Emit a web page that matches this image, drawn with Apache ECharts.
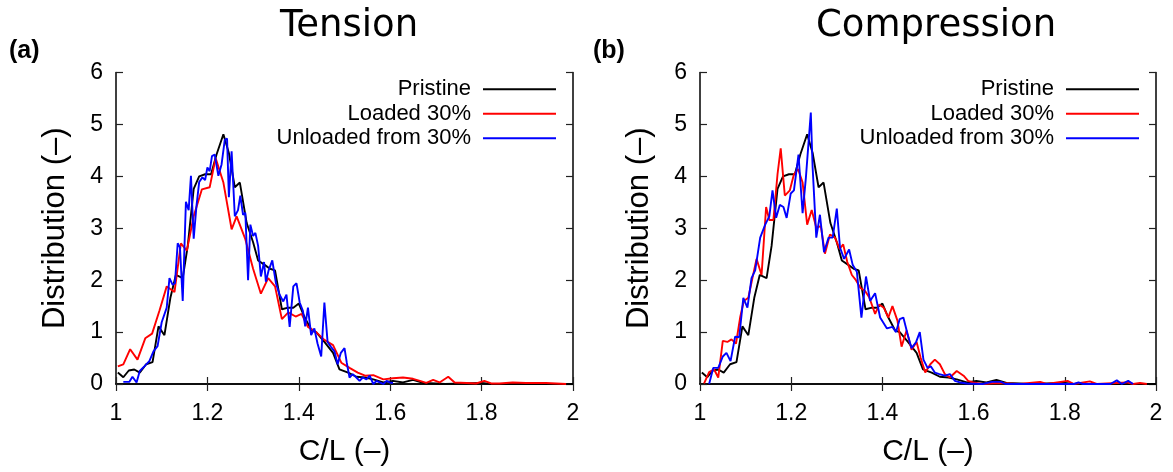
<!DOCTYPE html>
<html><head><meta charset="utf-8">
<script src="https://cdn.jsdelivr.net/npm/echarts@6/dist/echarts.min.js"></script>
<style>html,body{margin:0;padding:0;background:#fff}#c{width:1173px;height:472px}</style>
</head><body><div id="c"></div>
<script>
// ---- data ----
const panelTitles = ['Tension', 'Compression'];
const panelTags = ['(a)', '(b)'];
const seriesNames = ['Pristine', 'Loaded 30%', 'Unloaded from 30%'];
const xTickValues = [1, 1.2, 1.4, 1.6, 1.8, 2];
const yTickValues = [0, 1, 2, 3, 4, 5, 6];

const pristineX = [1.004,1.016,1.028,1.040,1.052,1.066,1.080,1.093,1.106,1.119,1.131,1.146,1.157,1.170,1.182,1.195,1.208,1.220,1.235,1.247,1.260,1.271,1.286,1.300,1.311,1.326,1.337,1.348,1.363,1.377,1.388,1.400,1.413,1.428,1.438,1.456,1.475,1.489,1.508,1.526,1.545,1.563,1.585,1.606,1.628,1.650,1.672,1.700,1.720,1.800,1.820,2.000];
const pristineY = [0.22,0.13,0.26,0.28,0.22,0.38,0.42,1.11,0.94,1.66,2.10,2.04,2.66,3.76,4.00,4.04,4.04,4.42,4.81,4.45,3.79,3.88,3.10,2.73,2.38,2.29,2.22,2.19,1.44,1.47,1.47,1.55,1.28,1.03,1.00,0.81,0.60,0.28,0.22,0.14,0.125,0.09,0.03,0.06,0.03,0.08,0.02,0.01,0.00,0.02,0.00,0.00];

const tensionLoadedX = [1.004,1.016,1.031,1.047,1.064,1.079,1.095,1.111,1.128,1.142,1.155,1.170,1.188,1.205,1.218,1.235,1.253,1.264,1.283,1.300,1.317,1.333,1.348,1.363,1.377,1.393,1.406,1.420,1.438,1.456,1.475,1.493,1.511,1.529,1.545,1.563,1.585,1.606,1.628,1.650,1.665,1.679,1.694,1.708,1.727,1.741,1.767,1.788,1.806,1.821,1.839,1.868,1.897,1.941,1.985];
const tensionLoadedY = [0.34,0.38,0.67,0.47,0.88,0.97,1.41,1.88,1.77,2.71,2.57,3.23,3.75,3.79,4.35,3.88,2.98,3.23,2.79,2.22,1.74,2.04,1.88,1.25,1.38,1.30,1.35,1.10,1.00,0.85,0.75,0.41,0.31,0.22,0.16,0.17,0.09,0.11,0.125,0.10,0.06,0.02,0.08,0.03,0.14,0.03,0.02,0.01,0.06,0.01,0.01,0.03,0.02,0.02,0.00];

const tensionUnloadedX = [1.016,1.029,1.036,1.045,1.052,1.062,1.073,1.082,1.091,1.100,1.111,1.117,1.124,1.129,1.135,1.140,1.146,1.153,1.159,1.164,1.170,1.176,1.182,1.189,1.195,1.200,1.205,1.210,1.216,1.224,1.231,1.238,1.243,1.247,1.253,1.260,1.267,1.272,1.278,1.283,1.289,1.294,1.300,1.305,1.311,1.317,1.324,1.328,1.334,1.342,1.350,1.358,1.366,1.373,1.380,1.388,1.395,1.402,1.409,1.414,1.420,1.427,1.434,1.441,1.449,1.456,1.463,1.470,1.478,1.485,1.492,1.500,1.505,1.511,1.518,1.526,1.533,1.540,1.548,1.555,1.563,1.570,1.577,1.585,1.592,1.599,1.606];
const tensionUnloadedY = [0.04,0.04,0.14,0.03,0.25,0.34,0.44,0.63,0.73,1.19,1.47,2.04,1.91,1.94,2.71,2.63,1.60,3.51,3.35,4.01,2.80,3.42,3.89,3.98,3.93,4.17,4.10,4.39,4.42,4.01,4.23,4.70,4.73,3.60,4.48,3.23,3.35,3.63,3.26,3.30,2.00,3.07,2.85,2.91,2.66,2.07,2.35,1.97,2.19,2.38,1.94,1.72,1.59,1.72,1.10,1.88,1.94,1.57,1.41,1.11,1.47,0.94,1.07,0.78,0.53,1.57,0.81,0.72,0.63,0.38,0.60,0.69,0.41,0.125,0.19,0.125,0.06,0.125,0.09,0.16,0.00,0.06,0.03,0.00,0.06,0.03,0.02];

const compLoadedX = [1.009,1.020,1.031,1.040,1.050,1.060,1.069,1.079,1.088,1.096,1.106,1.115,1.124,1.135,1.145,1.152,1.161,1.170,1.177,1.186,1.197,1.206,1.215,1.225,1.235,1.245,1.255,1.265,1.274,1.285,1.296,1.306,1.314,1.323,1.333,1.342,1.352,1.362,1.371,1.384,1.393,1.403,1.413,1.422,1.433,1.442,1.453,1.464,1.475,1.484,1.494,1.505,1.515,1.526,1.537,1.548,1.563,1.578,1.588,1.599,1.620,1.650,1.700,1.746,1.760,1.806,1.820,1.855,1.870,1.936,1.950,1.965,1.980];
const compLoadedY = [0.01,0.23,0.28,0.125,0.83,0.81,0.86,0.78,1.28,1.60,1.66,2.04,2.41,2.10,3.41,3.16,3.16,4.04,4.54,3.63,3.73,4.04,4.14,3.88,3.07,3.35,3.01,3.04,2.51,2.88,2.82,2.60,2.69,2.35,2.10,2.00,1.85,1.79,1.67,1.35,1.53,1.47,1.28,1.50,1.22,0.72,1.03,0.66,0.81,0.50,0.22,0.38,0.47,0.38,0.19,0.125,0.25,0.16,0.06,0.03,0.00,0.02,0.00,0.04,0.00,0.06,0.00,0.05,0.00,0.03,0.00,0.02,0.00];

const compUnloadedX = [1.020,1.029,1.040,1.050,1.058,1.067,1.077,1.086,1.095,1.104,1.113,1.121,1.132,1.143,1.152,1.159,1.167,1.175,1.183,1.190,1.199,1.206,1.216,1.225,1.232,1.243,1.247,1.255,1.263,1.272,1.282,1.291,1.300,1.307,1.316,1.327,1.335,1.344,1.354,1.364,1.373,1.384,1.395,1.410,1.422,1.430,1.438,1.446,1.455,1.464,1.474,1.482,1.490,1.499,1.506,1.515,1.525,1.537,1.548,1.559,1.570,1.585,1.620,1.640,1.660,1.670,1.820,1.830,1.840,1.900,1.914,1.925,1.939,1.950];
const compUnloadedY = [0.00,0.31,0.31,0.53,0.60,0.44,0.91,0.90,1.66,1.47,2.04,2.19,2.82,3.07,3.23,3.73,3.20,3.45,3.41,3.20,3.67,3.73,4.42,3.29,3.95,5.23,4.17,2.82,3.26,2.54,2.82,2.82,3.38,2.63,2.41,2.59,2.29,2.16,1.28,2.07,1.60,1.75,1.28,1.07,1.10,1.00,1.25,1.28,0.97,0.69,0.81,1.00,0.47,0.31,0.34,0.22,0.19,0.16,0.19,0.06,0.03,0.01,0.00,0.04,0.04,0.00,0.00,0.03,0.00,0.00,0.07,0.00,0.06,0.00];

const seriesColors = ['#000000', '#ff0000', '#0000ff'];

// ---- helpers ----
const zip = (xs, ys) => xs.map((x, i) => [x, ys[i]]);
const panels = [
  {grid: {left: 116, top: 72.5, width: 457, height: 319.2},
   data: [zip(pristineX, pristineY), zip(tensionLoadedX, tensionLoadedY), zip(tensionUnloadedX, tensionUnloadedY)]},
  {grid: {left: 700, top: 72.5, width: 456, height: 319.2},
   data: [zip(pristineX, pristineY), zip(compLoadedX, compLoadedY), zip(compUnloadedX, compUnloadedY)]}
];

const FONT = 'Liberation Sans';
const axisLine = {show: true, lineStyle: {color: '#000', width: 1.5}};
const tick = {show: true, inside: true, length: 7, lineStyle: {color: '#222', width: 1.2}};
const xMin = xTickValues[0], xMax = xTickValues[xTickValues.length - 1];
const xStep = +(xTickValues[1] - xTickValues[0]).toFixed(6);
const yMin = yTickValues[0], yMax = yTickValues[yTickValues.length - 1];
const yStep = yTickValues[1] - yTickValues[0];

const grids = [], xAxes = [], yAxes = [], series = [], legends = [], titles = [];
panels.forEach((p, gi) => {
  grids.push(Object.assign({show: false, containLabel: false}, p.grid));
  const xBase = {type: 'value', gridIndex: gi, min: xMin, max: xMax, interval: xStep,
    axisLine, axisTick: tick, splitLine: {show: false}};
  xAxes.push(Object.assign({}, xBase, {position: 'bottom',
    axisLabel: {show: true, margin: 18, fontFamily: FONT, fontSize: 23, color: '#000',
      formatter: v => String(+v.toFixed(1))},
    name: 'C/L (\u2013)', nameLocation: 'middle', nameGap: 53,
    nameTextStyle: {fontFamily: FONT, fontSize: 30, color: '#000'}}));
  xAxes.push(Object.assign({}, xBase, {position: 'top', axisLabel: {show: false}}));
  const yBase = {type: 'value', gridIndex: gi, min: yMin, max: yMax, interval: yStep,
    axisLine, axisTick: tick, splitLine: {show: false}};
  yAxes.push(Object.assign({}, yBase, {position: 'left',
    axisLabel: {show: true, margin: 13, fontFamily: FONT, fontSize: 23, color: '#000'},
    name: 'Distribution (\u2013)', nameLocation: 'middle', nameGap: 45, nameRotate: 90,
    nameTextStyle: {fontFamily: FONT, fontSize: 31, color: '#000'}}));
  yAxes.push(Object.assign({}, yBase, {position: 'right', axisLabel: {show: false}}));
  p.data.forEach((d, si) => {
    series.push({type: 'line', name: seriesNames[si], xAxisIndex: gi * 2, yAxisIndex: gi * 2,
      data: d, showSymbol: false, symbol: 'none', animation: false,
      lineStyle: {color: seriesColors[si], width: 1.9}, itemStyle: {color: seriesColors[si]}, z: 2 + si});
  });
  legends.push({orient: 'vertical', align: 'right', right: 1173 - (p.grid.left + p.grid.width) + 17,
    top: 77, padding: 0, itemWidth: 73, itemHeight: 2, itemGap: 0, icon: 'rect',
    data: seriesNames, selectedMode: false,
    textStyle: {fontFamily: FONT, fontSize: 22, color: '#000', lineHeight: 24.5, padding: [0, 7, 0, 0]}});
});
const titleStyle = {fontFamily: 'DejaVu Sans', fontSize: 37, fontWeight: 'normal', color: '#000'};
const tagStyle = {fontFamily: FONT, fontSize: 25, fontWeight: 'bold', color: '#000'};
titles.push({text: panelTitles[0], left: 280, top: 8, padding: 0, textStyle: titleStyle});
titles.push({text: panelTitles[1], left: 816, top: 8, padding: 0, textStyle: titleStyle});
titles.push({text: panelTags[0], left: 9, top: 39, padding: 0, textStyle: tagStyle});
titles.push({text: panelTags[1], left: 593, top: 39, padding: 0, textStyle: tagStyle});

const chart = echarts.init(document.getElementById('c'), null, {renderer: 'canvas'});
chart.setOption({
  animation: false, backgroundColor: '#fff',
  title: titles, grid: grids, xAxis: xAxes, yAxis: yAxes, legend: legends, series
});
</script></body></html>
